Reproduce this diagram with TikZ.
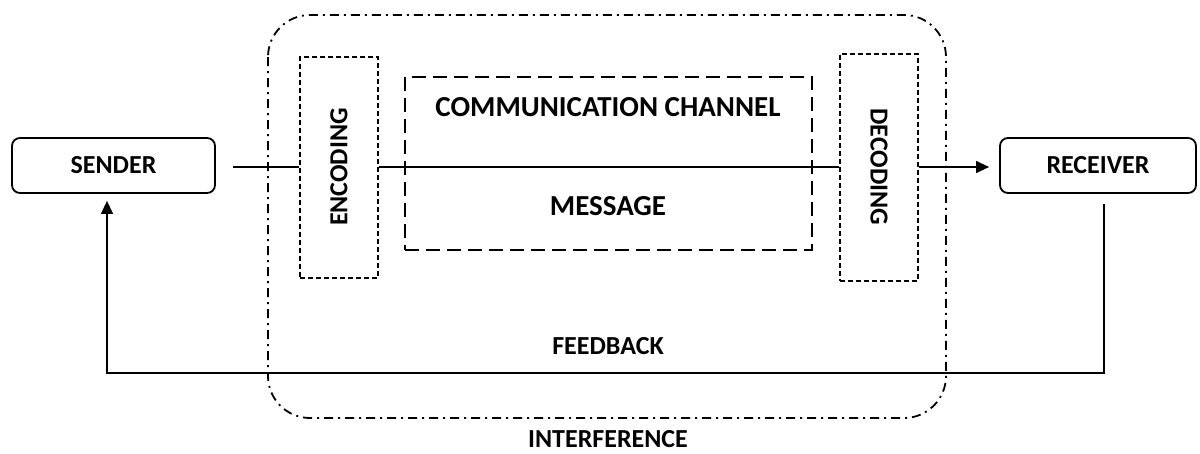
\documentclass[tikz,border=0pt]{standalone}
\usepackage{fontspec}
\setmainfont{Carlito}
\usetikzlibrary{arrows.meta,calc}
\tikzset{
  lbl/.style={font=\bfseries\fontsize{26}{30}\selectfont, inner sep=0pt},
  bigl/.style={font=\bfseries\fontsize{29}{33}\selectfont, inner sep=0pt},
  endbox/.style={draw, line width=1.8pt, rounded corners=8pt, minimum width=203pt, minimum height=55pt, lbl},
  codebox/.style={draw, line width=2pt, dash pattern=on 5pt off 3pt, minimum width=78pt},
  chanbox/.style={draw, line width=1.9pt, dash pattern=on 14pt off 7pt},
  interf/.style={draw, line width=1.8pt, rounded corners=42pt, dash pattern=on 9pt off 5pt on 2pt off 5pt},
  conn/.style={line width=1.3pt},
  arr/.style={conn, -{Triangle[length=13pt,width=12pt]}}
}
\begin{document}
\begin{tikzpicture}[x=1pt,y=-1pt]
\useasboundingbox (0,0) rectangle (1200,453);
% interference region
\draw[interf] (268,15) rectangle (946,418);
% end boxes
\node[endbox] (sender) at (113.5,165.5) {SENDER};
\node[endbox, minimum width=196pt] (receiver) at (1098,165.5) {RECEIVER};
% encoding / decoding
\node[codebox, minimum height=221pt] (enc) at (339,167) {};
\node[lbl, rotate=90] (enctxt) at (enc.center) {ENCODING};
\node[codebox, minimum height=227pt] (dec) at (879,167) {};
\node[lbl, rotate=-90] (dectxt) at (dec.center) {DECODING};
% communication channel
\node[chanbox, minimum width=407pt, minimum height=173pt] (chan) at (608.5,163.5) {};
\node[bigl] (chantxt) at (608,107) {COMMUNICATION CHANNEL};
\node[bigl] (msg) at (608,206) {MESSAGE};
% labels
\node[lbl] (fb) at (608,346) {FEEDBACK};
\node[lbl] (intf) at (608,439) {INTERFERENCE};
% connectors
\coordinate (s0) at ($(sender.east)+(17,1.5)$);
\draw[conn] (s0) -- (enc.west);
\draw[conn] (enc.east) -- (dec.west);
\draw[arr] (dec.east) -- ($(receiver.west)+(-10,1.5)$) coordinate (r0);
\coordinate (fbr) at ($(receiver.south)+(6,10)$);
\coordinate (fbl) at ($(sender.south)+(-6.5,7)$);
\draw[arr] (fbr) -- (fbr |- 0,373) -- (fbl |- 0,373) -- (fbl);
\end{tikzpicture}
\end{document}
